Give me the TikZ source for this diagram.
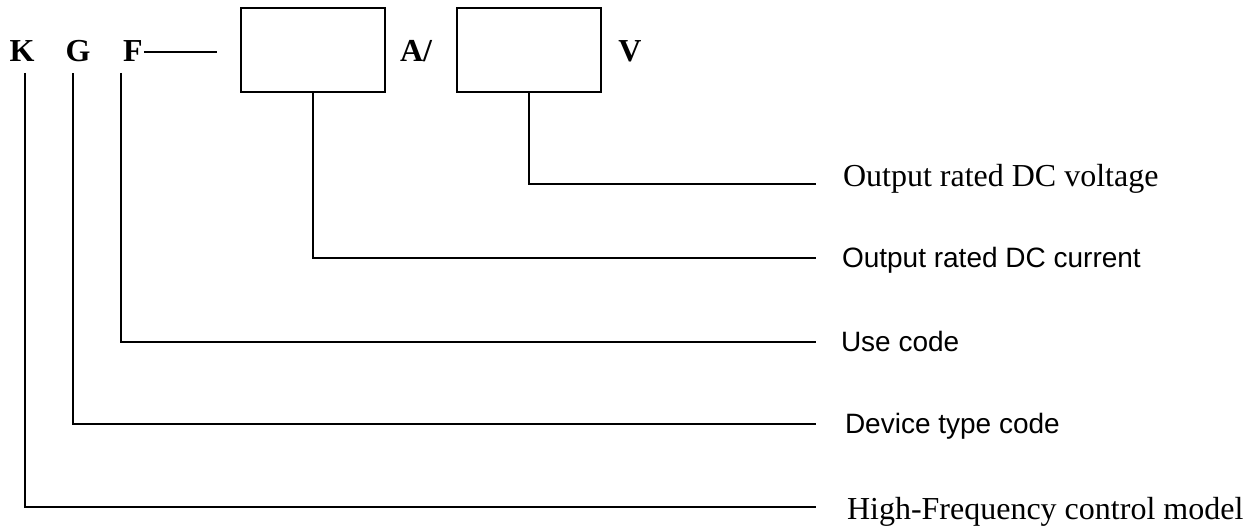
\documentclass[tikz,border=0pt]{standalone}
\usepackage{fontspec}
\setmainfont{Liberation Serif}
\setsansfont{Liberation Sans}
\begin{document}
\begin{tikzpicture}[x=0.5pt,y=-0.5pt,line width=1pt,
  codeletter/.style={font=\fontsize{16}{19}\selectfont\bfseries,inner sep=0pt,anchor=base},
  codebox/.style={draw,minimum width=72pt,minimum height=42pt,inner sep=0pt},
  serifnote/.style={font=\fontsize{16}{19}\selectfont,inner sep=0pt,anchor=base west},
  sansnote/.style={font=\sffamily\fontsize{14}{17}\selectfont,inner sep=0pt,anchor=base west}]
\useasboundingbox (0,0) rectangle (1257,528);

\node[codeletter] (K) at (22,62) {K};
\node[codeletter] (G) at (78,62) {G};
\node[codeletter] (F) at (133,62) {F};
\node[codebox] (boxA) at (313,50) {};
\node[codeletter] (A) at (416,62) {A/};
\node[codebox] (boxV) at (529,50) {};
\node[codeletter] (V) at (630,62) {V};

\coordinate (fEnd) at (217,51);
\draw (F.east) -- (F.east -| fEnd);

\coordinate (vEnd) at (816,184);
\coordinate (iEnd) at (816,258);
\coordinate (uEnd) at (816,342);
\coordinate (dEnd) at (816,424);
\coordinate (hEnd) at (816,507);

\node[serifnote] (volt) at (842,187) {Output rated DC voltage};
\node[sansnote] (curr) at (841,268) {Output rated DC current};
\node[sansnote] (use) at (840,352) {Use code};
\node[sansnote] (dev) at (844,434) {Device type code};
\node[serifnote] (hf) at (846,519) {High-Frequency control model};

\draw (boxV.south) |- (vEnd);
\draw (boxA.south) |- (iEnd);
\draw ([xshift=-6pt,yshift=-5pt]F.south) |- (uEnd);
\draw ([xshift=-2.5pt,yshift=-5pt]G.south) |- (dEnd);
\draw ([xshift=1.5pt,yshift=-5pt]K.south) |- (hEnd);
\end{tikzpicture}
\end{document}
